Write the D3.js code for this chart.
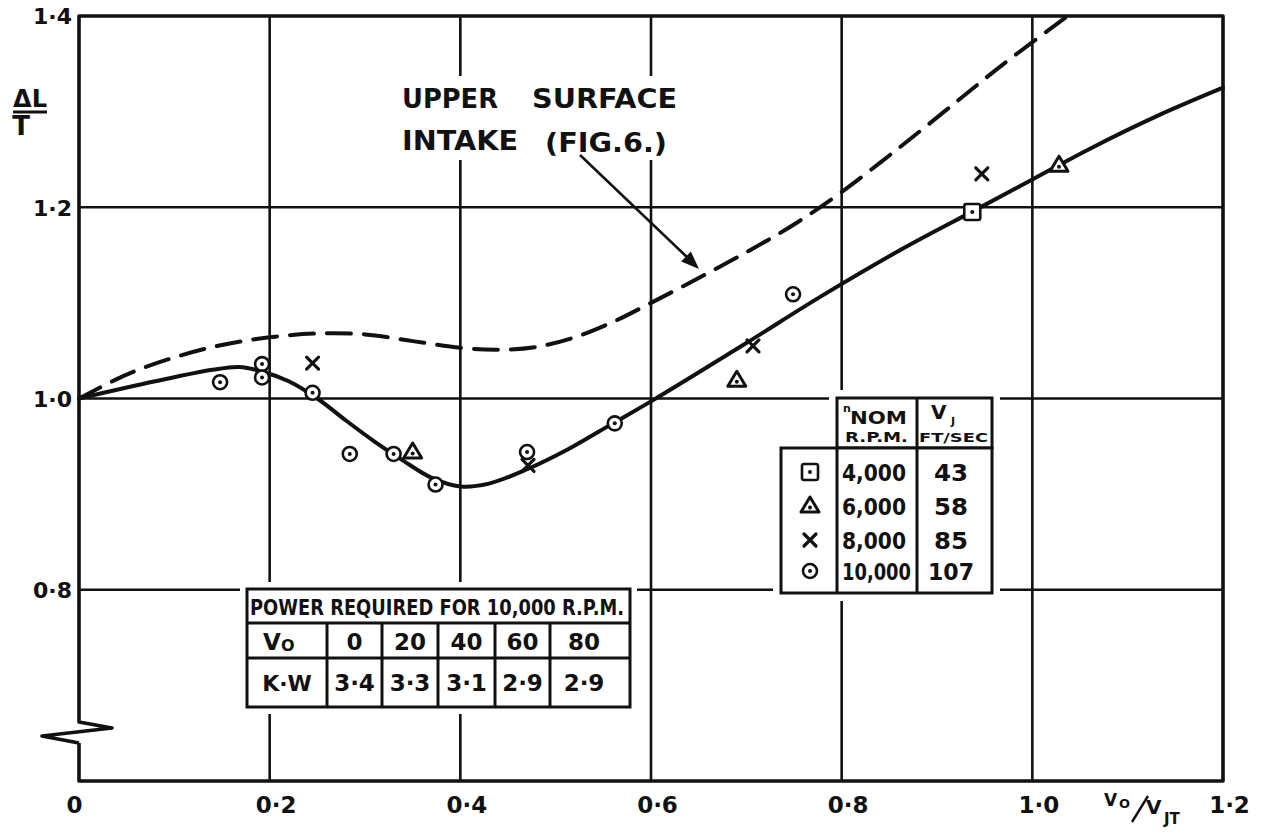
<!DOCTYPE html>
<html><head><meta charset="utf-8">
<script src="https://cdn.jsdelivr.net/npm/d3@7"></script>
<style>
html,body{margin:0;padding:0;background:#fff;}
svg text{font-family:"DejaVu Sans","Liberation Sans",sans-serif;font-weight:bold;fill:#111;}
</style></head>
<body><svg id="c" width="1265" height="832"></svg>
<script>
// ---------- data ----------
const xTicks = [0, 0.2, 0.4, 0.6, 0.8, 1.0, 1.2];
const xTickLabels = ["0", "0·2", "0·4", "0·6", "0·8", "1·0", "1·2"];
const yTicks = [0.8, 1.0, 1.2, 1.4];
const yTickLabels = ["0·8", "1·0", "1·2", "1·4"];
const xGrid = [0.2, 0.4, 0.6, 0.8, 1.0];
const yGrid = [0.8, 1.0, 1.2];

// measured curve (solid)
const solidX = [0, 0.08, 0.14, 0.168, 0.193, 0.22, 0.25, 0.28, 0.31, 0.34, 0.37, 0.40, 0.43, 0.47, 0.515, 0.56, 0.60, 0.70, 0.777, 0.861, 0.94, 1.0, 1.06, 1.13, 1.2];
const solidY = [1.0, 1.018, 1.030, 1.033, 1.028, 1.018, 1.000, 0.977, 0.955, 0.935, 0.917, 0.908, 0.911, 0.926, 0.948, 0.974, 0.997, 1.058, 1.106, 1.155, 1.197, 1.229, 1.261, 1.295, 1.325];
// upper surface intake (dashed)
const dashX = [0, 0.05, 0.10, 0.15, 0.20, 0.25, 0.30, 0.35, 0.40, 0.44, 0.48, 0.52, 0.56, 0.60, 0.65, 0.70, 0.75, 0.80, 0.86, 0.92, 0.97, 1.037];
const dashY = [1.0, 1.025, 1.043, 1.056, 1.064, 1.068, 1.067, 1.060, 1.053, 1.051, 1.054, 1.064, 1.080, 1.100, 1.126, 1.153, 1.182, 1.216, 1.262, 1.310, 1.350, 1.40];

// test points by nominal rpm
const sq4000X = [0.937];
const sq4000Y = [1.195];
const tri6000X = [0.350, 0.690, 1.028];
const tri6000Y = [0.944, 1.019, 1.244];
const x8000X = [0.245, 0.471, 0.707, 0.947];
const x8000Y = [1.037, 0.930, 1.055, 1.235];
const c10000X = [0.148, 0.192, 0.192, 0.245, 0.284, 0.330, 0.374, 0.470, 0.562, 0.749];
const c10000Y = [1.017, 1.036, 1.022, 1.006, 0.942, 0.942, 0.910, 0.944, 0.974, 1.109];

// legend table
const legendSymbols = ["square", "triangle", "cross", "circle"];
const legendRpm = ["4,000", "6,000", "8,000", "10,000"];
const legendVj = ["43", "58", "85", "107"];

// power table
const powerTitle = "POWER REQUIRED FOR 10,000 R.P.M.";
const powerV0 = ["0", "20", "40", "60", "80"];
const powerKW = ["3·4", "3·3", "3·1", "2·9", "2·9"];

// ---------- chart ----------
const svg = d3.select("#c");
const INK = "#111";
const x = d3.scaleLinear().domain([0, 1.2]).range([79, 1223]);
const y = d3.scaleLinear().domain([0.6, 1.4]).range([781, 16]);

// grid
const g = svg.append("g");
g.selectAll(".vg").data(xGrid).join("line")
  .attr("x1", d => x(d)).attr("x2", d => x(d)).attr("y1", y(1.4)).attr("y2", y(0.6))
  .attr("stroke", INK).attr("stroke-width", 2.6);
g.selectAll(".hg").data(yGrid).join("line")
  .attr("y1", d => y(d)).attr("y2", d => y(d)).attr("x1", x(0)).attr("x2", x(1.2))
  .attr("stroke", INK).attr("stroke-width", 2.6);

// white masks (gaps in grid behind lettering and tables)
const masks = [
  [393, 76, 690, 160],
  [240, 582, 637, 714],
  [829, 390, 1000, 456],
  [773, 440, 1000, 601]
];
svg.append("g").selectAll("rect").data(masks).join("rect")
  .attr("x", d => d[0]).attr("y", d => d[1]).attr("width", d => d[2] - d[0]).attr("height", d => d[3] - d[1])
  .attr("fill", "#fff");

// frame with axis break
const x0 = x(0), x1 = x(1.2), yT = y(1.4), yB = y(0.6);
svg.append("path")
  .attr("d", `M${x0},${yB - 38} L${x0},${yB} L${x1},${yB} L${x1},${yT} L${x0},${yT} L${x0},${yB - 59} L${x0 + 33},${yB - 53} L${x0 - 37},${yB - 45} L${x0},${yB - 38}`)
  .attr("fill", "none").attr("stroke", INK).attr("stroke-width", 3.6).attr("stroke-linejoin", "round");

// axes (labels only)
const xAxis = d3.axisBottom(x).tickValues(xTicks).tickSize(0).tickPadding(10)
  .tickFormat((d, i) => xTickLabels[i]);
const xa = svg.append("g").attr("transform", `translate(0,${yB})`).call(xAxis);
xa.select(".domain").remove();
xa.selectAll("text").attr("font-size", 23).attr("font-family", "DejaVu Sans").attr("font-weight", "bold")
  .attr("fill", INK).attr("dx", (d, i) => i === 0 ? -5 : 6).attr("dy", "0.95em");

const yAxis = d3.axisLeft(y).tickValues(yTicks).tickSize(0).tickPadding(7)
  .tickFormat((d, i) => yTickLabels[i]);
const ya = svg.append("g").attr("transform", `translate(${x0},0)`).call(yAxis);
ya.select(".domain").remove();
ya.selectAll("text").attr("font-size", 22).attr("font-family", "DejaVu Sans").attr("font-weight", "bold")
  .attr("fill", INK).attr("dy", "0.36em");

// y title  ΔL / T
svg.append("text").attr("x", 30).attr("y", 107).attr("text-anchor", "middle").attr("font-size", 24)
  .attr("textLength", 34).attr("lengthAdjust", "spacingAndGlyphs").text("ΔL");
svg.append("line").attr("x1", 13).attr("x2", 47).attr("y1", 112).attr("y2", 112).attr("stroke", INK).attr("stroke-width", 3);
svg.append("text").attr("x", 21).attr("y", 135).attr("text-anchor", "middle").attr("font-size", 26).text("T");

// x title Vo / VJT
const xt = svg.append("g");
xt.append("text").attr("x", 1104).attr("y", 806).attr("font-size", 17).text("V");
xt.append("text").attr("x", 1119).attr("y", 808).attr("font-size", 13).text("O");
xt.append("line").attr("x1", 1132).attr("y1", 822).attr("x2", 1148).attr("y2", 796).attr("stroke", INK).attr("stroke-width", 2.4);
xt.append("text").attr("x", 1146).attr("y", 814).attr("font-size", 20).text("V");
xt.append("text").attr("x", 1164).attr("y", 824).attr("font-size", 15).text("JT");

// curves
const pts = (xs, ys) => xs.map((v, i) => [v, ys[i]]);
const line = d3.line().x(d => x(d[0])).y(d => y(d[1])).curve(d3.curveCatmullRom.alpha(0.5));
svg.append("path").attr("d", line(pts(dashX, dashY))).attr("fill", "none").attr("stroke", INK)
  .attr("stroke-width", 4).attr("stroke-dasharray", "24,13").attr("stroke-linecap", "round");
svg.append("path").attr("d", line(pts(solidX, solidY))).attr("fill", "none").attr("stroke", INK)
  .attr("stroke-width", 4).attr("stroke-linecap", "round");

// markers
function drawSymbol(sel, type, cx, cy) {
  const gg = sel.append("g").attr("transform", `translate(${cx},${cy})`);
  if (type === "circle") {
    gg.append("circle").attr("r", 7).attr("fill", "#fff").attr("stroke", INK).attr("stroke-width", 2.6);
    gg.append("circle").attr("r", 2).attr("fill", INK);
  } else if (type === "triangle") {
    gg.append("path").attr("d", "M0,-9 L9,6 L-9,6 Z").attr("fill", "#fff").attr("stroke", INK)
      .attr("stroke-width", 3).attr("stroke-linejoin", "round");
    gg.append("circle").attr("cy", 1.5).attr("r", 2).attr("fill", INK);
  } else if (type === "square") {
    gg.append("rect").attr("x", -8).attr("y", -8).attr("width", 16).attr("height", 16).attr("rx", 2)
      .attr("fill", "#fff").attr("stroke", INK).attr("stroke-width", 2.6);
    gg.append("circle").attr("r", 2).attr("fill", INK);
  } else {
    gg.append("path").attr("d", "M-6,-6 L6,6 M6,-6 L-6,6").attr("stroke", INK).attr("stroke-width", 3.2)
      .attr("stroke-linecap", "round");
  }
}
const mk = svg.append("g");
const series = [["square", sq4000X, sq4000Y], ["triangle", tri6000X, tri6000Y], ["cross", x8000X, x8000Y], ["circle", c10000X, c10000Y]];
series.forEach(([t, xs, ys]) => xs.forEach((v, i) => drawSymbol(mk, t, x(v), y(ys[i]))));

// annotation
const an = svg.append("g");
[["UPPER", 402, 108, 96], ["SURFACE", 532, 108, 145], ["INTAKE", 402, 150, 116], ["(FIG.6.)", 545, 152, 122]].forEach(([t, tx, ty, tl]) => {
  an.append("text").attr("x", tx).attr("y", ty).attr("font-size", 27).attr("textLength", tl)
    .attr("lengthAdjust", "spacingAndGlyphs").text(t);
});
const ax1 = 580, ay1 = 155, ax2 = 699, ay2 = 269;
an.append("line").attr("x1", ax1).attr("y1", ay1).attr("x2", ax2 - 10).attr("y2", ay2 - 10)
  .attr("stroke", INK).attr("stroke-width", 2.6);
{
  const ang = Math.atan2(ay2 - ay1, ax2 - ax1), L = 18, W = 7;
  const bx = ax2 - L * Math.cos(ang), by = ay2 - L * Math.sin(ang);
  const px = -Math.sin(ang) * W, py = Math.cos(ang) * W;
  an.append("path").attr("d", `M${ax2},${ay2} L${bx + px},${by + py} L${bx - px},${by - py} Z`).attr("fill", INK);
}

// legend table
const lt = svg.append("g");
const lw = 3;
const box = (sel, x1_, y1_, x2_, y2_) => sel.append("rect").attr("x", x1_).attr("y", y1_).attr("width", x2_ - x1_)
  .attr("height", y2_ - y1_).attr("fill", "#fff").attr("stroke", INK).attr("stroke-width", lw);
box(lt, 837, 398, 992, 448);
box(lt, 781, 448, 992, 593);
lt.append("line").attr("x1", 917).attr("x2", 917).attr("y1", 398).attr("y2", 593).attr("stroke", INK).attr("stroke-width", lw);
lt.append("line").attr("x1", 837).attr("x2", 837).attr("y1", 448).attr("y2", 593).attr("stroke", INK).attr("stroke-width", lw);
lt.append("text").attr("x", 843).attr("y", 412).attr("font-size", 11).text("n");
lt.append("text").attr("x", 850).attr("y", 424).attr("font-size", 18).attr("textLength", 57).attr("lengthAdjust", "spacingAndGlyphs").text("NOM");
lt.append("text").attr("x", 845).attr("y", 442).attr("font-size", 14).attr("textLength", 63).attr("lengthAdjust", "spacingAndGlyphs").text("R.P.M.");
lt.append("text").attr("x", 931).attr("y", 419).attr("font-size", 20).text("V");
lt.append("text").attr("x", 951).attr("y", 425).attr("font-size", 11).text("J");
lt.append("text").attr("x", 919).attr("y", 442).attr("font-size", 13).attr("textLength", 69).attr("lengthAdjust", "spacingAndGlyphs").text("FT/SEC");
const rowY = [472, 506, 540, 571];
legendSymbols.forEach((s, i) => drawSymbol(lt, s, 810, rowY[i]));
lt.selectAll(".rpm").data(legendRpm).join("text").attr("x", 842).attr("y", (d, i) => rowY[i] + 9)
  .attr("font-size", 23).attr("textLength", d => d.length > 5 ? 69 : 64).attr("lengthAdjust", "spacingAndGlyphs").text(d => d);
lt.selectAll(".vj").data(legendVj).join("text").attr("x", 951).attr("y", (d, i) => rowY[i] + 9)
  .attr("text-anchor", "middle").attr("font-size", 23)
  .attr("textLength", d => d.length > 2 ? 46 : 34).attr("lengthAdjust", "spacingAndGlyphs").text(d => d);

// power table
const pt = svg.append("g");
box(pt, 247, 589, 630, 707);
[623, 658].forEach(yy => pt.append("line").attr("x1", 247).attr("x2", 630).attr("y1", yy).attr("y2", yy).attr("stroke", INK).attr("stroke-width", lw));
const colX = [247, 327, 382, 438, 495, 550, 630];
colX.slice(1, -1).forEach(cx => pt.append("line").attr("x1", cx).attr("x2", cx).attr("y1", 623).attr("y2", 707).attr("stroke", INK).attr("stroke-width", lw));
pt.append("text").attr("x", 250).attr("y", 615).attr("font-size", 22).attr("textLength", 374)
  .attr("lengthAdjust", "spacingAndGlyphs").attr("font-family", "DejaVu Sans Condensed, DejaVu Sans").text(powerTitle);
pt.append("text").attr("x", 263).attr("y", 650).attr("font-size", 23).text("V");
pt.append("text").attr("x", 281).attr("y", 651).attr("font-size", 16).text("O");
pt.append("text").attr("x", 287).attr("y", 691).attr("font-size", 22).attr("text-anchor", "middle").text("K·W");
powerV0.forEach((t, i) => pt.append("text").attr("x", (colX[i + 1] + colX[i + 2]) / 2 - (i === 4 ? 6 : 0)).attr("y", 650)
  .attr("text-anchor", "middle").attr("font-size", 23).text(t));
powerKW.forEach((t, i) => pt.append("text").attr("x", (colX[i + 1] + colX[i + 2]) / 2 - (i === 4 ? 6 : 0)).attr("y", 691)
  .attr("text-anchor", "middle").attr("font-size", 23).text(t));
</script></body></html>
